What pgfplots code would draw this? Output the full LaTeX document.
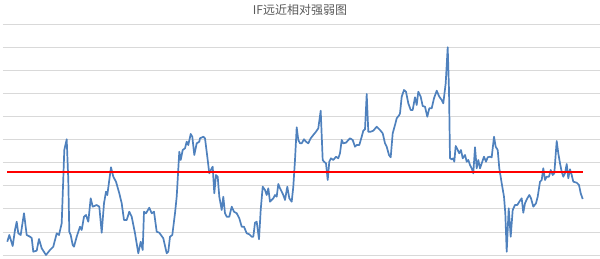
\documentclass[border=0pt]{standalone}
\usepackage{pgfplots}
\pgfplotsset{compat=1.18}
\usepackage{fontspec}
\newfontfamily\cjk{Noto Sans CJK SC}
\definecolor{lineblue}{HTML}{4F81BD}
\definecolor{gridgray}{HTML}{D9D9D9}
\definecolor{titlegray}{HTML}{595959}
\begin{document}
\begin{tikzpicture}[x=1pt,y=1pt]
\useasboundingbox (0,0) rectangle (600,258);
\node[font=\cjk\fontsize{12}{14}\selectfont, text=titlegray] at (300,248) {IF远近相对强弱图};
\begin{axis}[
  at={(3pt,3pt)}, anchor=south west,
  scale only axis, width=597pt, height=231pt,
  xmin=3, xmax=600, ymin=0, ymax=231,
  ytick={0,23.1,...,231}, xtick=\empty,
  yticklabels={}, 
  ymajorgrids, grid style={draw=gridgray, line width=0.8pt},
  axis line style={draw=none}, major tick length=0pt,
  clip=false,
]
\addplot[lineblue, line width=1.7pt, line join=round] coordinates {
(7.3,13.3)(9.3,20)(12.7,9)(15,25)(16.7,33.3)(18.3,21.7)(20.7,20)(24,41.7)(26.7,20)(30,18.3)
(31.7,17)(33.3,3.3)(36.7,4.3)(39,16)(41.7,6.7)(46,0)(50,5)(53.3,8.3)(56.7,21.7)(59,20)
(61.7,31.7)(64.3,105)(66.7,115.7)(68.3,75)(69.3,23.3)(70.7,20)(72.7,10)(74,8.3)(76.7,18.3)(80,28.3)
(81.7,25)(84,38.3)(86,40)(88.3,33.3)(90.7,56.7)(92.7,48.3)(96.7,50)(99.3,48.3)(101.7,22.3)(104,51.7)
(106,63.3)(107.3,60)(111,87.7)(113.3,78.3)(116,73.3)(119.3,61.7)(121.7,51.7)(124,35)(126.7,35)(129.3,43.3)
(131.7,38.3)(135,21.7)(138.3,1.7)(140.7,13.3)(142.7,5)(144,43.3)(146,41.7)(149.3,47.3)(151.7,41.7)(154,43.3)
(156.7,23.3)(159.3,22.3)(163.3,16.7)(166.7,1.7)(168.3,3.3)(170,18.3)(172.3,20)(175,41.7)(176.7,58.3)(179.3,103.3)
(180.7,95)(182.7,105)(185,106.7)(186.7,113.3)(188.3,110)(190.7,121)(192.3,118.3)(194.3,100)(196.7,111.7)(199.3,113.3)
(200,116.7)(203.3,118.3)(205,116.7)(207.3,98.3)(209.3,81.7)(211.7,86.7)(212.7,88.3)(214.3,61.7)(216,80)(217.7,78.3)
(219.3,58.3)(221.7,45)(223.3,58.3)(225,41.7)(226.7,38.3)(229.3,38.3)(231.7,48.3)(234,43.3)(236.7,41.7)(239.3,36.7)
(241.7,28.3)(244,28.3)(246.7,21.7)(249.3,20.7)(251.7,18.3)(253.3,18.3)(255,32.3)(256.7,33.3)(259,15.7)(260.7,45)
(262.7,68.3)(265,65)(266.7,60)(268.3,66.7)(270,53.3)(273.3,56.7)(275,60)(276.7,58.3)(278.3,71)(280,66.7)
(281.7,63.3)(283.3,60)(285,55)(287.3,68.3)(289.3,56.7)(291.7,53.3)(293.3,68.3)(295,95)(296.7,127.7)(298.3,115)
(300,111.7)(301.7,111.7)(304,115.7)(306,113.3)(308.3,111.7)(310.7,116.7)(313.3,120)(316,123.3)(318.3,126.7)(320.7,144.3)
(322.7,95)(324,93.3)(326,91.7)(327.7,75)(329.3,93.3)(331,96.7)(333.3,95)(336,98.3)(338.3,96.7)(340,101.7)
(341.7,115)(343.3,111.7)(346,112.3)(348.3,115)(350,116.7)(352.7,115)(355,108.3)(356.7,110)(359.3,110)(361.7,118.3)
(363.3,124.3)(365,125.7)(366.7,161)(368.3,123.3)(370.7,123.3)(373.3,124.3)(376.7,128.3)(380,125)(382.7,121.7)(385,111.7)
(386.7,108.3)(389,100)(390.7,97.7)(392.7,121.7)(395,130)(396.7,136.7)(399.3,140)(400,141.7)(401.7,158.3)(404,165)
(406,163.3)(408.3,151.7)(410.7,145)(412.7,145)(415,157.7)(416.7,150)(418.3,163.3)(420.7,158.3)(422.7,149)(425,148.3)
(427.3,138.3)(429.3,146.7)(431.7,146.7)(434,156.7)(436.7,164.3)(439.3,158.3)(441.7,155)(443.3,151.7)(445.7,171.7)(447.7,207.7)
(449,165)(450,96.7)(451.7,95.7)(453.3,96.7)(454.3,93.3)(455.7,109)(457.7,105)(459.3,101.7)(461,105)(462.7,96.7)
(465,100)(466.7,93.3)(468.3,95)(470,90)(471.7,86.7)(473.3,81.7)(475,107.7)(476.7,86.7)(478.3,95)(480,86.7)
(481.7,91.7)(484,98.3)(486,93.3)(487.7,97.7)(490,98.3)(491.7,97.7)(494,118.3)(495.7,108.3)(497.7,105)(499.3,86.7)
(501.7,71.7)(504,58.3)(505.3,41.7)(506.7,3.3)(508.7,46.7)(510.7,18.3)(512.7,45)(515,50)(517.3,50)(519.3,53.3)
(521.7,56.7)(523.3,42.3)(525,51.7)(527.3,56.7)(529.3,60)(531,56.7)(533.3,48.3)(536,51.7)(537.7,58.3)(540,73.3)
(541.7,75)(543.3,86.7)(545,75)(546.7,78.3)(549,78.3)(550.7,85)(552.7,80)(554.3,81.7)(556.7,114)(558.3,101.7)
(560,91.7)(561.7,83.3)(563.3,78.3)(565,81.7)(566.7,91)(568.3,76.7)(570,85.7)(571.7,80)(573.3,73.3)(576.7,72.3)
(579,70)(580.7,61.7)(582.7,56)
};
\addplot[red, line width=1.7pt] coordinates {(7.3,82.7)(582.7,82.7)};
\end{axis}
\end{tikzpicture}
\end{document}
